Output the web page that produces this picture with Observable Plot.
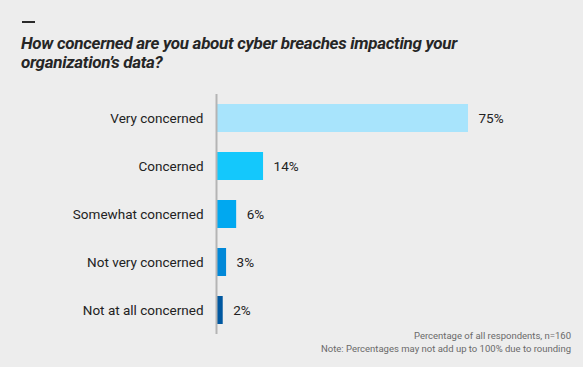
<!DOCTYPE html>
<html><head><meta charset="utf-8">
<script src="https://cdn.jsdelivr.net/npm/d3@7"></script>
<script src="https://cdn.jsdelivr.net/npm/@observablehq/plot@0.6"></script>
<style>
html,body{margin:0;padding:0;background:#ededed;width:583px;height:367px;overflow:hidden;font-family:Roboto,sans-serif;}
#dash{position:absolute;left:22px;top:21px;width:13px;height:2px;background:#2a2a2a;}
#title{position:absolute;left:21px;top:34px;font-weight:700;font-style:italic;font-size:17px;line-height:19px;letter-spacing:-0.3px;color:#262626;white-space:nowrap;}
#chart{position:absolute;left:0;top:90px;}
#foot{position:absolute;right:12px;top:329px;text-align:right;font-size:9.5px;line-height:13px;color:#6a6a6a;}
</style></head>
<body>
<div id="dash"></div>
<div id="title">How concerned are you about cyber breaches impacting your<br>organization’s data?</div>
<div id="chart"></div>
<div id="foot">Percentage of all respondents, n=160<br>Note: Percentages may not add up to 100% due to rounding</div>
<script>
const categories = ["Very concerned","Concerned","Somewhat concerned","Not very concerned","Not at all concerned"];
const values = [75, 14, 6, 3, 2];
const labels = ["75%","14%","6%","3%","2%"];
const colors = ["#a8e4fc","#14c8fc","#00a8f0","#0088d8","#0058a0"];
const data = categories.map((c,i)=>({category:c, value:values[i], label:labels[i], color:colors[i]}));
const chart = Plot.plot({
  width: 583, height: 249,
  marginLeft: 216, marginRight: 115, marginTop: 4, marginBottom: 5,
  style: {background: "transparent", fontFamily: "Roboto, sans-serif", fontSize: "13.5px", color: "#222"},
  x: {domain: [0, 75], axis: null},
  y: {domain: categories, paddingInner: 0.417, paddingOuter: 0.208, label: null, tickSize: 0, tickPadding: 13},
  marks: [
    Plot.barX(data, {x: "value", y: "category", fill: "color"}),
    Plot.text(data, {x: "value", y: "category", text: "label", dx: 10, textAnchor: "start", fontSize: 13.5, fill: "#222"}),
    Plot.ruleX([0], {stroke: "#b4b4b4", strokeWidth: 2})
  ]
});
document.getElementById("chart").appendChild(chart);
</script>
</body></html>
